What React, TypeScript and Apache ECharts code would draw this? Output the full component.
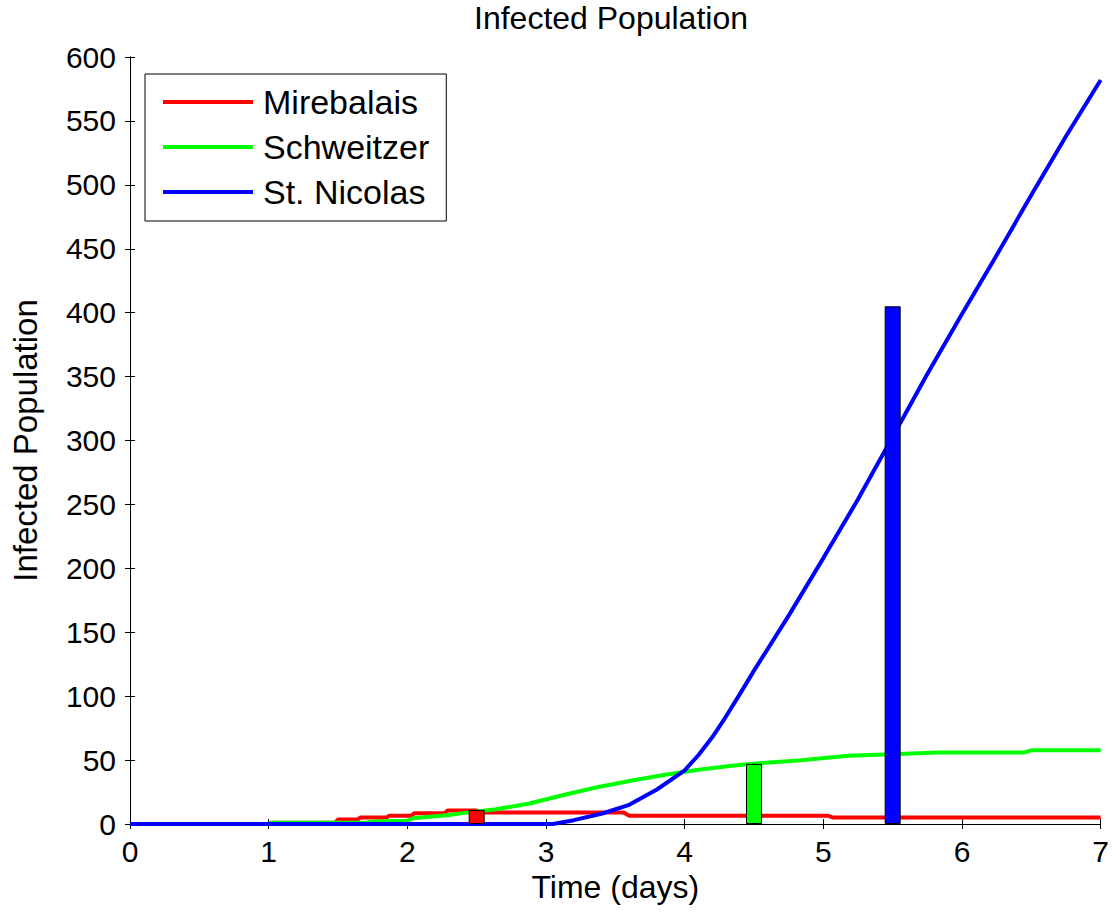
import React, { useEffect, useRef } from "react";
import * as echarts from "echarts";

const FONT = "'Liberation Sans', Arial, sans-serif";

const xTicks = [0, 1, 2, 3, 4, 5, 6, 7];
const yTicks = [0, 50, 100, 150, 200, 250, 300, 350, 400, 450, 500, 550, 600];

const seriesNames = ["Mirebalais", "Schweitzer", "St. Nicolas"];
const seriesColors = ["#ff0000", "#00ff00", "#0000ff"];

const mirebalaisT = [0, 1.0, 1.02, 1.48, 1.5, 1.64, 1.66, 1.85, 1.87, 2.03, 2.05, 2.27, 2.29, 2.5, 2.52, 3.56, 3.6, 5.03, 5.07, 7];
const mirebalaisV = [0, 0, 1, 1, 3.5, 3.5, 5, 5, 6.5, 6.5, 8.5, 8.5, 10.5, 10.5, 9, 9, 6.5, 6.5, 5, 5];

const schweitzerT = [0, 1.0, 1.02, 1.7, 1.75, 2.0, 2.04, 2.3, 2.4, 2.64, 2.88, 3.12, 3.36, 3.62, 3.86, 4.1, 4.34, 4.58, 4.82, 5.18, 5.54, 5.83, 6.45, 6.5, 7];
const schweitzerV = [0, 0, 1, 1, 2, 2.5, 4.5, 7, 8.5, 11.5, 16, 22.5, 28.5, 34, 38.5, 42.4, 45.6, 48, 49.7, 53.4, 54.7, 56, 56, 57.6, 57.6];

const stNicolasT = [0, 3.05, 3.2, 3.4, 3.6, 3.8, 4.0, 4.1, 4.2, 4.28, 4.4, 4.5, 4.75, 5.0, 5.25, 5.5, 5.75, 6.0, 6.25, 6.5, 6.75, 7.0];
const stNicolasV = [0, 0, 3, 8, 15, 27, 42, 54, 68, 81, 102, 120, 163, 208, 254, 303, 352, 399, 445, 492, 538, 582];

const barDays = [2.5, 4.5, 5.5];
const barValues = [11, 47, 405];

const lineTimes = [mirebalaisT, schweitzerT, stNicolasT];
const lineValues = [mirebalaisV, schweitzerV, stNicolasV];

export default function App() {
  const ref = useRef<HTMLDivElement>(null);

  useEffect(() => {
    if (!ref.current) return;
    const chart = echarts.init(ref.current, undefined, { renderer: "svg" });

    const axisLine = { show: true, lineStyle: { color: "#000", width: 1 } };
    const axisTick = { show: true, inside: true, length: 5, lineStyle: { color: "#000", width: 1 } };
    const labelStyle = { color: "#000", fontSize: 30, fontFamily: FONT };

    const lineSeries = seriesNames.map((name, i) => ({
      name,
      type: "line",
      xAxisIndex: 0,
      yAxisIndex: 0,
      showSymbol: false,
      symbol: "none",
      data: lineTimes[i].map((t, j) => [t, lineValues[i][j]]),
      itemStyle: { color: seriesColors[i] },
      lineStyle: { color: seriesColors[i], width: 4 },
      z: 2 + i,
    }));

    const option: any = {
      animation: false,
      backgroundColor: "#fff",
      title: {
        text: "Infected Population",
        left: 474,
        top: 2,
        padding: 0,
        textStyle: { color: "#000", fontSize: 32, fontWeight: "normal", fontFamily: FONT },
      },
      legend: {
        data: seriesNames,
        orient: "vertical",
        left: 145,
        top: 74,
        icon: "rect",
        itemWidth: 90,
        itemHeight: 4,
        itemGap: 11,
        padding: [11, 17, 12, 18],
        borderColor: "#000",
        borderWidth: 1,
        backgroundColor: "#fff",
        itemStyle: { borderWidth: 0 },
        textStyle: { color: "#000", fontSize: 34, fontFamily: FONT, padding: [0, 0, 0, 5] },
      },
      grid: { left: 130, right: 9, top: 57, bottom: 96, containLabel: false },
      xAxis: [
        {
          type: "value",
          min: xTicks[0],
          max: xTicks[xTicks.length - 1],
          interval: 1,
          position: "bottom",
          axisLine,
          axisTick,
          splitLine: { show: false },
          axisLabel: { ...labelStyle, margin: 12 },
          name: "Time (days)",
          nameLocation: "middle",
          nameGap: 44,
          nameTextStyle: { color: "#000", fontSize: 32, fontFamily: FONT },
        },
        {
          type: "value",
          min: xTicks[0],
          max: xTicks[xTicks.length - 1],
          interval: 1,
          position: "top",
          axisLine,
          axisTick,
          splitLine: { show: false },
          axisLabel: { show: false },
        },
      ],
      yAxis: [
        {
          type: "value",
          min: yTicks[0],
          max: yTicks[yTicks.length - 1],
          interval: 50,
          position: "left",
          axisLine,
          axisTick,
          splitLine: { show: false },
          axisLabel: { ...labelStyle, margin: 14 },
          name: "Infected Population",
          nameLocation: "middle",
          nameGap: 88,
          nameRotate: 90,
          nameTextStyle: { color: "#000", fontSize: 33, fontFamily: FONT },
        },
        {
          type: "value",
          min: yTicks[0],
          max: yTicks[yTicks.length - 1],
          interval: 50,
          position: "right",
          axisLine,
          axisTick,
          splitLine: { show: false },
          axisLabel: { show: false },
        },
      ],
      series: [
        ...lineSeries,
        {
          name: "bars",
          type: "bar",
          xAxisIndex: 0,
          yAxisIndex: 0,
          barWidth: 16,
          z: 10,
          data: barDays.map((d, i) => ({
            value: [d, barValues[i]],
            itemStyle: { color: seriesColors[i], borderColor: "#000", borderWidth: 1 },
          })),
        },
      ],
    };

    chart.setOption(option);
    return () => chart.dispose();
  }, []);

  return (
    <div
      ref={ref}
      style={{ position: "absolute", left: 0, top: 0, width: 1112, height: 920 }}
    />
  );
}
